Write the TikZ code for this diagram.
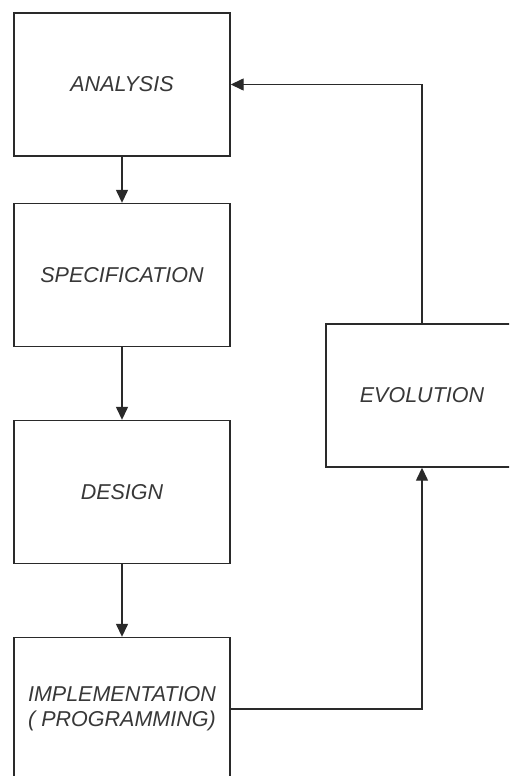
\documentclass[tikz,border=0pt]{standalone}
\usepackage{fontspec}
\setmainfont{Liberation Sans}
\usepackage{tikz}
\usetikzlibrary{arrows.meta}
\definecolor{edgegray}{HTML}{2A2A2A}
\definecolor{textgray}{HTML}{383838}
\tikzset{
  stagebox/.style={draw=edgegray, line width=1.4pt, fill=white, rectangle,
    minimum width=216pt, minimum height=143pt, inner sep=0pt, align=center,
    text=textgray, font=\fontsize{21.5}{25}\selectfont\itshape},
  flow/.style={draw=edgegray, line width=1.4pt,
    -{Triangle[length=13pt,width=12pt]}}
}
\newcommand{\stage}[4]{\node[stagebox] (#1) at ( #2 , #3 ) {#4};}

\begin{document}
\begin{tikzpicture}[x=1pt,y=-1pt]
\clip (0,0) rectangle (509,776);
\fill[white] (0,0) rectangle (509,776);
% left column of stages
\stage{ana}{122}{84.5}{ANALYSIS}
\stage{spec}{122}{275}{SPECIFICATION}
\stage{des}{122}{492}{DESIGN}
\stage{impl}{122}{709}{IMPLEMENTATION\\( PROGRAMMING)}
% feedback stage
\node[stagebox, minimum width=192pt] (evo) at (422,395.5) {EVOLUTION};
% arrows down
\draw[flow] (ana.south) -- (spec.north);
\draw[flow] (spec.south) -- (des.north);
\draw[flow] (des.south) -- (impl.north);
% loop back
\draw[flow] (impl.east) -| (evo.south);
\draw[flow] (evo.north) |- (ana.east);
\end{tikzpicture}
\end{document}
